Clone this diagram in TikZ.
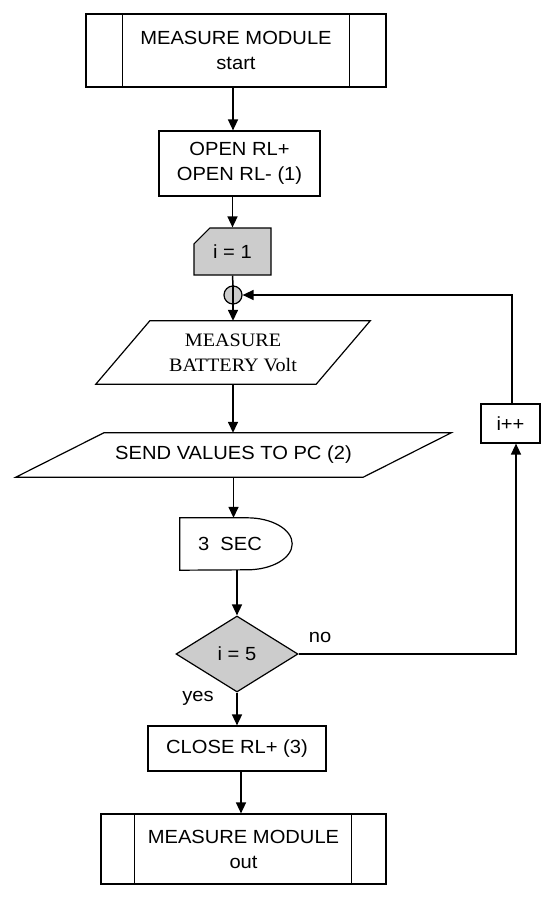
\documentclass[tikz,border=0pt]{standalone}
\usepackage{fontspec}
\setmainfont{Liberation Sans}[FakeStretch=1.06]
\newfontfamily\tms{Liberation Serif}[FakeStretch=1.06]
\usetikzlibrary{shapes.geometric,shapes.misc,arrows.meta}
\definecolor{boxgray}{RGB}{204,204,204}
\begin{document}
\begin{tikzpicture}[x=1pt,y=-1pt,
  every node/.style={font=\fontsize{19}{25}\selectfont, inner sep=0pt, align=center},
  outl/.style={draw, line width=1.2pt},
  shp/.style={line width=1.2pt},
  arr/.style={line width=1.5pt, -{Triangle[length=11pt,width=10pt]}},
  ln/.style={line width=1.5pt}]
\useasboundingbox (0,0) rectangle (550,897);

% nodes
\node[outl, minimum width=300pt, minimum height=73pt] (start) at (236,50.5) {MEASURE MODULE\\start};
\node[outl, minimum width=161pt, minimum height=65pt] (open) at (239.5,163.5) {OPEN RL+\\OPEN RL- (1)};
\node[outl, chamfered rectangle, chamfered rectangle corners=north west,
      chamfered rectangle xsep=9pt, chamfered rectangle ysep=9pt,
      fill=boxgray, minimum width=77pt, minimum height=47pt] (init) at (232.5,251.5) {i = 1};
\node[outl, circle, fill=boxgray, minimum size=18pt] (junc) at (233,295) {};
\node[minimum width=220pt, minimum height=63pt, font=\tms\fontsize{19}{25}\selectfont] (meas) at (233,352.5) {MEASURE\\BATTERY Volt};
\node[minimum width=347pt, minimum height=44pt] (send) at (233.5,455) {SEND VALUES TO PC (2)};
\node[minimum width=100pt, minimum height=52pt] (delay) at (230,544) {3\ \ SEC};
\node[outl, diamond, fill=boxgray, minimum width=122pt, minimum height=76pt] (dec) at (237,654) {i = 5};
\node[outl, minimum width=59pt, minimum height=39pt] (inc) at (510.5,423.5) {i++};
\node[outl, minimum width=178pt, minimum height=45pt] (close) at (237,748.5) {CLOSE RL+ (3)};
\node[outl, minimum width=285pt, minimum height=70pt] (end) at (243.5,849) {MEASURE MODULE\\out};
\node (no) at (320,637) {no};
\node (yes) at (198,698) {yes};

% shape details
\draw[shp] ([xshift=37pt]start.north west) -- ([xshift=37pt]start.south west);
\draw[shp] ([xshift=-37pt]start.north east) -- ([xshift=-37pt]start.south east);
\draw[shp] ([xshift=34pt]end.north west) -- ([xshift=34pt]end.south west);
\draw[shp] ([xshift=-35pt]end.north east) -- ([xshift=-35pt]end.south east);
\draw[shp] ([xshift=27pt]meas.north west) -- ([xshift=27pt]meas.north east)
  -- ([xshift=-27pt]meas.south east) -- ([xshift=-27pt]meas.south west) -- cycle;
\draw[shp] ([xshift=44pt]send.north west) -- ([xshift=44pt]send.north east)
  -- ([xshift=-44pt]send.south east) -- ([xshift=-44pt]send.south west) -- cycle;
\draw[shp] (delay.north west) -- ([xshift=-33pt]delay.north east)
  arc[start angle=90, end angle=-90, x radius=45pt, y radius=26pt]
  -- (delay.south west) -- cycle;

% connectors
\draw[arr] ([xshift=-3pt]start.south) -- ([xshift=-3pt]start.south |- open.north);
\draw[arr] (init.north |- open.south) -- (init.north);
\draw[ln] (init.south) -- (junc.north);
\draw[arr] (junc.north) -- (junc.north |- meas.north);
\draw[arr] (meas.south) -- (meas.south |- send.north);
\draw[arr] (send.south) -- (send.south |- delay.north);
\draw[arr] (dec.north |- delay.south) -- (dec.north);
\draw[arr] (dec.south) -- (dec.south |- close.north);
\draw[arr] ([xshift=4pt]close.south) -- ([xshift=4pt]close.south |- end.north);
\coordinate (c1) at (516,654);
\draw[arr] (dec.east) -- (c1) -- (c1 |- inc.south);
\coordinate (c2) at (512,295);
\draw[arr] (c2 |- inc.north) -- (c2) -- (junc.east);
\end{tikzpicture}
\end{document}
